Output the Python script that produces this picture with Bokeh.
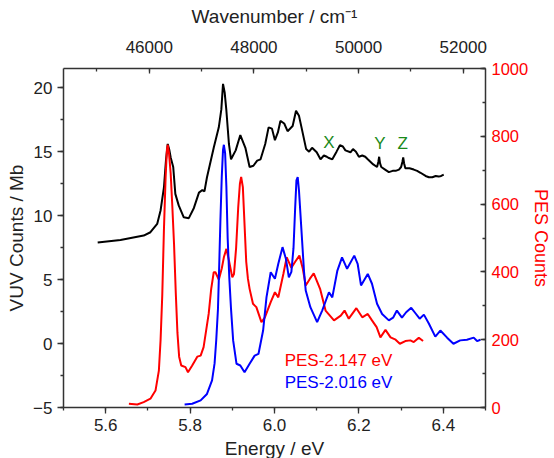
from bokeh.plotting import figure
from bokeh.models import (Range1d, LinearAxis, SingleIntervalTicker, PrintfTickFormatter, Label)
from bokeh.embed import file_html
from bokeh.resources import INLINE

# ---- data ----
vuv_x = [5.581, 5.635, 5.690, 5.706, 5.722, 5.730, 5.738, 5.743, 5.747, 5.751, 5.754, 5.760,
         5.765, 5.773, 5.785, 5.797, 5.809, 5.821, 5.829, 5.834, 5.840, 5.856, 5.868, 5.874,
         5.878, 5.882, 5.886, 5.892, 5.897, 5.908, 5.919, 5.931, 5.941, 5.950, 5.959, 5.967,
         5.978, 5.986, 5.994, 6.001, 6.008, 6.014, 6.023, 6.031, 6.043, 6.051, 6.058, 6.064,
         6.075, 6.082, 6.089, 6.100, 6.109, 6.117, 6.124, 6.129, 6.137, 6.147, 6.155, 6.162,
         6.168, 6.180, 6.186, 6.193, 6.200, 6.208, 6.215, 6.221, 6.234, 6.243, 6.246, 6.248,
         6.250, 6.253, 6.262, 6.271, 6.280, 6.287, 6.295, 6.300, 6.303, 6.305, 6.307, 6.310,
         6.320, 6.330, 6.338, 6.346, 6.358, 6.366, 6.374, 6.382, 6.389, 6.395, 6.401]
vuv_y = [7.89, 8.10, 8.44, 8.70, 9.35, 10.4, 12.2, 14.4, 15.6, 15.1, 14.55, 13.8,
         11.7, 10.8, 9.87, 9.80, 10.6, 11.8, 12.0, 11.9, 13.0, 15.3, 16.9, 18.3,
         20.3, 19.6, 18.2, 15.6, 14.4, 15.1, 16.3, 15.3, 13.8, 13.9, 14.3, 14.4,
         15.6, 16.9, 16.8, 15.9, 16.5, 17.4, 17.2, 16.6, 17.0, 18.2, 17.8, 16.9,
         15.2, 15.0, 15.3, 14.95, 14.4, 14.7, 14.6, 14.5, 14.4, 15.0, 15.5, 15.4,
         15.1, 14.95, 15.2, 15.0, 14.6, 14.7, 14.6, 14.4, 14.0, 13.8, 14.2, 14.6,
         14.1, 13.8, 13.6, 13.4, 13.5, 13.5, 13.6, 13.8, 14.2, 14.55, 14.1, 13.7,
         13.7, 13.6, 13.5, 13.35, 13.1, 13.0, 13.0, 13.1, 13.05, 13.1, 13.2]

red_x = [5.655, 5.675, 5.690, 5.706, 5.718, 5.726, 5.730, 5.734, 5.738, 5.742, 5.745,
         5.747, 5.750, 5.754, 5.758, 5.762, 5.766, 5.770, 5.774, 5.779, 5.789, 5.795,
         5.805, 5.817, 5.825, 5.832, 5.844, 5.850, 5.856, 5.860, 5.868, 5.875, 5.880,
         5.886, 5.892, 5.900, 5.904, 5.909, 5.914, 5.918, 5.921, 5.925, 5.929, 5.933,
         5.937, 5.941, 5.949, 5.957, 5.969, 5.977, 5.991, 6.001, 6.009, 6.021, 6.029,
         6.040, 6.049, 6.059, 6.067, 6.074, 6.084, 6.093, 6.108, 6.121, 6.141, 6.157,
         6.166, 6.176, 6.194, 6.208, 6.221, 6.231, 6.242, 6.251, 6.263, 6.275, 6.287,
         6.297, 6.310, 6.322, 6.330, 6.342, 6.352]
red_y = [11, 9, 16, 26, 50, 109, 198, 330, 525, 680, 760,
         775, 750, 690, 590, 480, 340, 220, 150, 124, 119, 104,
         124, 150, 153, 178, 276, 350, 399, 399, 377, 410, 443,
         468, 434, 384, 394, 470, 590, 660, 680, 650, 540, 430,
         380, 350, 306, 296, 252, 265, 311, 340, 325, 394, 443,
         412, 430, 448, 410, 360, 380, 396, 350, 286, 257, 271,
         286, 262, 293, 266, 276, 257, 237, 207, 229, 207, 200,
         188, 196, 198, 193, 206, 196]

blue_x = [5.787, 5.805, 5.825, 5.840, 5.852, 5.858, 5.862, 5.866, 5.869, 5.872, 5.875,
          5.878, 5.880, 5.883, 5.886, 5.889, 5.893, 5.897, 5.902, 5.910, 5.919, 5.929,
          5.941, 5.953, 5.962, 5.973, 5.981, 5.991, 6.001, 6.009, 6.019, 6.027, 6.034,
          6.040, 6.045, 6.049, 6.052, 6.055, 6.058, 6.062, 6.066, 6.070, 6.074, 6.085,
          6.101, 6.113, 6.129, 6.137, 6.149, 6.160, 6.172, 6.189, 6.197, 6.205, 6.221,
          6.231, 6.243, 6.255, 6.271, 6.281, 6.290, 6.302, 6.312, 6.324, 6.334, 6.344,
          6.354, 6.366, 6.381, 6.393, 6.409, 6.424, 6.440, 6.456, 6.472, 6.480, 6.488]
blue_y = [9, 11, 21, 40, 80, 130, 200, 290, 420, 560, 680,
          760, 775, 750, 650, 500, 380, 290, 198, 129, 124, 104,
          129, 153, 158, 227, 325, 399, 380, 424, 473, 439, 384,
          400, 470, 590, 670, 680, 640, 560, 480, 400, 345, 296,
          252, 286, 340, 325, 404, 443, 409, 448, 424, 360, 394,
          365, 306, 276, 257, 265, 286, 265, 281, 294, 278, 262,
          274, 247, 209, 227, 206, 188, 198, 200, 206, 196, 200]

peak_labels = ["X", "Y", "Z"]
peak_x = [6.129, 6.250, 6.304]
peak_y = [15.75, 15.6, 15.6]

FONT = "Liberation Sans"
RED = "#ff0000"
BLUE = "#0000ff"
AX = "#333333"

p = figure(frame_width=422, frame_height=339, output_backend="svg", toolbar_location=None,
           x_range=Range1d(5.5, 6.5), y_range=Range1d(-5, 21.5),
           min_border_left=63, min_border_top=68, min_border_right=10, min_border_bottom=10,
           x_axis_location=None, y_axis_location=None)
p.extra_y_ranges = {"pes": Range1d(0, 1000)}
p.extra_x_ranges = {"wn": Range1d(5.5 * 8065.54, 6.5 * 8065.54)}
p.grid.visible = False
p.outline_line_color = None
p.background_fill_color = "white"


def style(ax, color="#222222", label_color="#222222", inside=False):
    ax.axis_line_color = AX
    ax.axis_line_width = 1.5
    ax.major_tick_line_color = AX
    ax.minor_tick_line_color = AX
    ax.major_tick_line_width = 1.3
    ax.minor_tick_line_width = 1.3
    if inside:
        ax.major_tick_in, ax.major_tick_out = 5, 0
        ax.minor_tick_in, ax.minor_tick_out = 3, 0
    else:
        ax.major_tick_in, ax.major_tick_out = 0, 6
        ax.minor_tick_in, ax.minor_tick_out = 0, 3
    ax.major_label_text_font = FONT
    ax.major_label_text_font_size = "17px"
    ax.major_label_text_color = color
    ax.axis_label_text_font = FONT
    ax.axis_label_text_font_size = "19px"
    ax.axis_label_text_font_style = "normal"
    ax.axis_label_text_color = label_color


left = LinearAxis(axis_label="VUV Counts / Mb",
                  ticker=SingleIntervalTicker(interval=5, num_minor_ticks=2))
style(left)
left.major_label_standoff = 5
left.axis_label_standoff = 3
p.add_layout(left, "left")

bottom = LinearAxis(axis_label="Energy / eV",
                    ticker=SingleIntervalTicker(interval=0.2, num_minor_ticks=2),
                    formatter=PrintfTickFormatter(format="%.1f"))
style(bottom)
bottom.major_label_standoff = 5
bottom.axis_label_standoff = 4
p.add_layout(bottom, "below")

top = LinearAxis(x_range_name="wn", axis_label="Wavenumber / cm\u207b\u00b9",
                 ticker=SingleIntervalTicker(interval=2000, num_minor_ticks=2))
style(top, inside=True)
top.major_label_standoff = 16
top.axis_label_standoff = 11
p.add_layout(top, "above")

right = LinearAxis(y_range_name="pes", axis_label="PES Counts",
                   ticker=SingleIntervalTicker(interval=200, num_minor_ticks=2))
style(right, color=RED, label_color=RED, inside=True)
right.major_label_text_font_size = "16.5px"
right.axis_label_text_font_size = "18px"
right.major_label_standoff = 6
right.axis_label_standoff = 0
p.add_layout(right, "right")

p.line(vuv_x, vuv_y, line_color="black", line_width=2)
p.line(red_x, red_y, line_color=RED, line_width=2, y_range_name="pes")
p.line(blue_x, blue_y, line_color=BLUE, line_width=2, y_range_name="pes")

for t, xx, yy in zip(peak_labels, peak_x, peak_y):
    p.add_layout(Label(x=xx, y=yy, text=t, text_align="center", text_baseline="middle",
                       text_color="#1a8a1a", text_font=FONT, text_font_size="17px"))

p.add_layout(Label(x=6.024, y=139, y_range_name="pes", text="PES-2.147 eV",
                   text_baseline="middle", text_color=RED, text_font=FONT,
                   text_font_size="17px"))
p.add_layout(Label(x=6.024, y=74, y_range_name="pes", text="PES-2.016 eV",
                   text_baseline="middle", text_color=BLUE, text_font=FONT,
                   text_font_size="17px"))

open("out.html", "w").write(file_html(p, INLINE))
